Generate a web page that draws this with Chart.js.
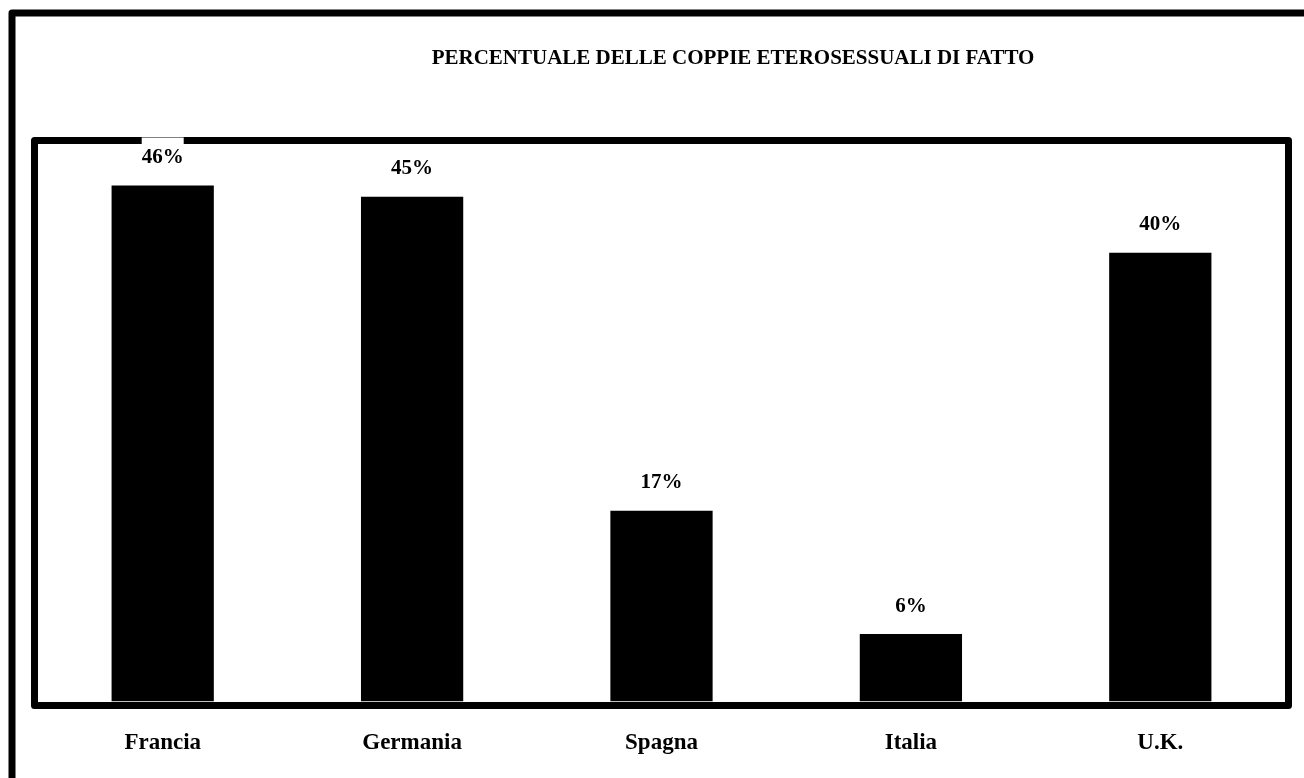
<!DOCTYPE html>
<html>
<head>
<meta charset="utf-8">
<script src="https://cdn.jsdelivr.net/npm/chart.js@4/dist/chart.umd.min.js"></script>
<style>
  html, body { margin: 0; padding: 0; background: #fff; }
  #wrap { width: 1304px; height: 778px; position: relative; }
</style>
</head>
<body>
<div id="wrap"><canvas id="myChart"></canvas></div>
<script>
const countries = ['Francia', 'Germania', 'Spagna', 'Italia', 'U.K.'];
const percentages = [46, 45, 17, 6, 40];
const titleText = 'PERCENTUALE DELLE COPPIE ETEROSESSUALI DI FATTO';

Chart.defaults.font.family = "'Liberation Serif', 'Times New Roman', serif";
Chart.defaults.color = '#000';

// frame, plot border, title and value labels
const decorations = {
    id: 'decorations',
    afterDatasetsDraw(chart) {
        const c = chart.ctx;
        const a = chart.chartArea;
        c.save();
        c.strokeStyle = '#000';
        c.lineJoin = 'round';

        // outer frame (runs off the right and bottom edges)
        c.lineWidth = 7;
        c.strokeRect(12, 13, chart.width + 20, chart.height + 20);

        // plot border
        c.lineWidth = 7;
        c.strokeRect(a.left - 3.5, a.top - 3.5, a.right - a.left + 7, a.bottom - a.top + 7.5);

        // title
        c.fillStyle = '#000';
        c.font = "bold 21px 'Liberation Serif'";
        c.textAlign = 'center';
        c.textBaseline = 'middle';
        c.fillText(titleText, 733, 59);

        // value labels
        const meta = chart.getDatasetMeta(0);
        meta.data.forEach(function (bar, i) {
            const txt = percentages[i] + '%';
            const y = bar.y - 28;
            const w = c.measureText(txt).width;
            c.fillStyle = '#fff';
            c.fillRect(bar.x - w / 2, y - 20, w, 34);
            c.fillStyle = '#000';
            c.fillText(txt, bar.x, y);
        });
        c.restore();
    }
};

new Chart(document.getElementById('myChart'), {
    type: 'bar',
    data: {
        labels: countries,
        datasets: [{
            data: percentages,
            backgroundColor: '#000',
            borderWidth: 0,
            barPercentage: 0.41,
            categoryPercentage: 1,
        }]
    },
    options: {
        responsive: true,
        maintainAspectRatio: false,
        animation: false,
        layout: {
            padding: { left: 38, right: 19, top: 144, bottom: -7 }
        },
        plugins: {
            legend: { display: false },
            title: { display: false },
            tooltip: { enabled: false }
        },
        scales: {
            x: {
                grid: { display: false, drawTicks: false },
                border: { display: false },
                ticks: {
                    padding: 28,
                    font: { size: 23, weight: 'bold' },
                    color: '#000'
                }
            },
            y: {
                display: false,
                min: 0,
                max: 49.7
            }
        }
    },
    plugins: [decorations]
});
</script>
</body>
</html>
